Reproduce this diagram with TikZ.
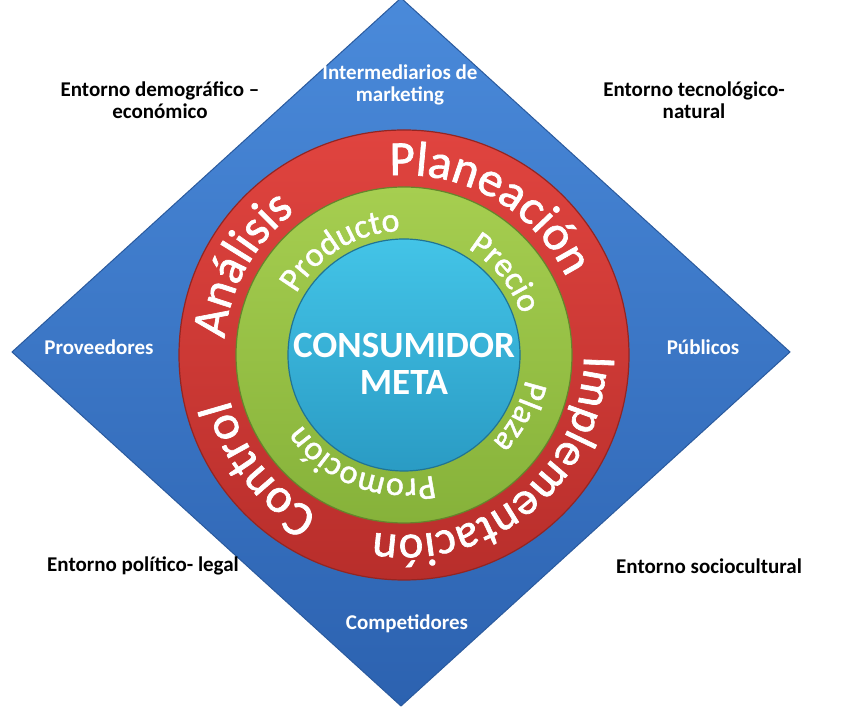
\documentclass[tikz,border=0pt]{standalone}
\usepackage{fontspec}
\setmainfont{Carlito}
\newfontfamily\ringfont{Carlito}[FakeBold=1.4]
\usetikzlibrary{decorations.text,positioning}

\definecolor{diamondtop}{HTML}{4A8ADA}
\definecolor{diamondbot}{HTML}{2C62B0}
\definecolor{diamondedge}{HTML}{2A5A9E}
\definecolor{redtop}{HTML}{E0443F}
\definecolor{redbot}{HTML}{B82E2B}
\definecolor{greentop}{HTML}{A6CE50}
\definecolor{greenbot}{HTML}{86B23A}
\definecolor{cyantop}{HTML}{43C4E7}
\definecolor{cyanbot}{HTML}{2A9BC4}

\tikzset{
 envlabel/.style={font=\bfseries\fontsize{21}{22}\selectfont, align=center, text=black},
 forcelabel/.style={font=\bfseries\fontsize{21}{22}\selectfont, align=center, text=white},
 corelabel/.style={font=\bfseries\fontsize{37}{37}\selectfont, align=center, text=white},
}

% radius, mid angle, font size, text (clockwise, tops outward)
\newcommand{\arctext}[4]{%
 \path[decorate, decoration={text along path, text align=center,
   text={|\ringfont\fontsize{#3}{#3}\selectfont\color{white}|#4}}]
   (c) ++(#2+75:#1) arc[start angle=#2+75, end angle=#2-75, radius=#1];}

\begin{document}
\begin{tikzpicture}[x=1pt,y=1pt]
 \useasboundingbox (0,0) rectangle (844,709);
 \coordinate (c) at (404,354);
 \coordinate (dtop) at (401,711);
 \coordinate (dright) at (790,357);
 \coordinate (dbot) at (401,3);
 \coordinate (dleft) at (12,357);

 % environment diamond
 \shade[top color=diamondtop, bottom color=diamondbot, draw=diamondedge, line width=1pt]
   (dtop) -- (dright) -- (dbot) -- (dleft) -- cycle;

 % rings
 \shade[top color=redtop, bottom color=redbot, draw=redbot!80!black, line width=1.2pt] (c) circle[radius=225];
 \shade[top color=greentop, bottom color=greenbot, draw=greenbot!75!black, line width=1.2pt] (c) circle[radius=168];
 \shade[top color=cyantop, bottom color=cyanbot, draw=cyanbot!75!black, line width=1.2pt] (c) circle[radius=116];

 % outer ring
 \arctext{180}{60}{49}{Planeación}
 \arctext{180}{-50}{47}{Implementación}
 \arctext{180}{218}{49}{Control}
 \arctext{180}{151}{49}{Análisis}

 % inner ring
 \arctext{124}{121}{34}{Producto}
 \arctext{124}{39}{34}{Precio}
 \arctext{124}{-28}{34}{Plaza}
 \arctext{124}{-111}{34}{Promoción}

 \node[corelabel] (meta) at (404,345) {CONSUMIDOR\\META};

 % forces
 \node[forcelabel] (inter) at (400,624) {Intermediarios de\\marketing};
 \node[forcelabel] (prov) at (99,362) {Proveedores};
 \node[forcelabel] (pub) at (703,362) {Públicos};
 \node[forcelabel] (comp) at (407,85) {Competidores};

 % macro environment
 \node[envlabel] (demo) at (160,609) {Entorno demográfico –\\económico};
 \node[envlabel] (tecno) at (694,609) {Entorno tecnológico-\\natural};
 \node[envlabel] (poli) at (143,143) {Entorno político- legal};
 \node[envlabel] (socio) at (709,143) {Entorno sociocultural};
\end{tikzpicture}
\end{document}
